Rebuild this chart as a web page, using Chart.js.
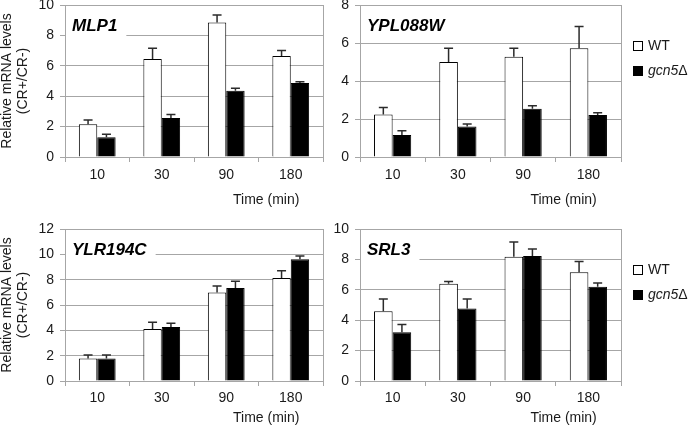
<!DOCTYPE html>
<html>
<head>
<meta charset="utf-8">
<script src="https://cdn.jsdelivr.net/npm/chart.js@4.4.1/dist/chart.umd.min.js"></script>
<style>
  body { margin: 0; background: #fff; }
  #wrap { position: relative; width: 692px; height: 429px; overflow: hidden; }
  #wrap canvas { position: absolute; }
</style>
</head>
<body>
<div id="wrap"></div>
<script>
// ---- data ----
const timeLabels = ['10', '30', '90', '180'];
const seriesNames = ['WT', 'gcn5Δ'];
const geneNames = ['MLP1', 'YPL088W', 'YLR194C', 'SRL3'];
const yMaxes = [10, 8, 12, 10];
const xAxisTitle = 'Time (min)';
const yAxisTitle = ['Relative mRNA levels', '(CR+/CR-)'];

const mlp1WT = [2.15, 6.45, 8.85, 6.65];
const mlp1WTErr = [0.28, 0.7, 0.5, 0.35];
const mlp1Mut = [1.3, 2.57, 4.36, 4.87];
const mlp1MutErr = [0.2, 0.23, 0.16, 0.08];

const ypl088wWT = [2.24, 5.0, 5.28, 5.72];
const ypl088wWTErr = [0.37, 0.72, 0.44, 1.15];
const ypl088wMut = [1.16, 1.61, 2.54, 2.21];
const ypl088wMutErr = [0.22, 0.13, 0.16, 0.12];

const ylr194cWT = [1.77, 4.1, 6.98, 8.14];
const ylr194cWTErr = [0.29, 0.53, 0.52, 0.56];
const ylr194cMut = [1.77, 4.26, 7.35, 9.62];
const ylr194cMutErr = [0.29, 0.29, 0.53, 0.24];

const srl3WT = [4.59, 6.4, 8.17, 7.15];
const srl3WTErr = [0.8, 0.15, 0.97, 0.71];
const srl3Mut = [3.2, 4.77, 8.23, 6.2];
const srl3MutErr = [0.51, 0.62, 0.45, 0.25];

const FONT = "'Liberation Sans', Arial, sans-serif";
const GRID = '#a6a6a6';
const TEXT = '#1a1a1a';

// error bars (upper only), drawn from the bar elements and the y scale
const errorBars = {
  id: 'errorBars',
  afterDatasetsDraw(chart) {
    const ctx = chart.ctx;
    const y = chart.scales.y;
    chart.data.datasets.forEach((ds, di) => {
      const meta = chart.getDatasetMeta(di);
      meta.data.forEach((bar, i) => {
        const top = y.getPixelForValue(ds.data[i] + ds.errors[i]);
        ctx.save();
        ctx.strokeStyle = '#2b2b2b';
        ctx.lineWidth = 1.5;
        ctx.beginPath();
        ctx.moveTo(bar.x, bar.y);
        ctx.lineTo(bar.x, top);
        ctx.moveTo(bar.x - 4.5, top);
        ctx.lineTo(bar.x + 4.5, top);
        ctx.stroke();
        ctx.restore();
      });
    });
  }
};

// right frame line, gene name box, x axis caption and side legend
const panelDecor = {
  id: 'panelDecor',
  beforeDatasetsDraw(chart, args, opts) {
    const ctx = chart.ctx;
    const a = chart.chartArea;
    ctx.save();
    ctx.strokeStyle = GRID;
    ctx.lineWidth = 1;
    ctx.beginPath();
    ctx.moveTo(a.right + 0.5, a.top);
    ctx.lineTo(a.right + 0.5, a.bottom);
    ctx.stroke();

    // gene name with white backing over the grid
    ctx.font = 'italic bold 17px ' + FONT;
    const tx = a.left + 7;
    const ty = a.top + 21;
    const tw = ctx.measureText(opts.gene).width;
    ctx.fillStyle = '#fff';
    ctx.fillRect(a.left + 1, ty - 13, tw + 15, 25);
    ctx.fillStyle = '#000';
    ctx.textBaseline = 'middle';
    ctx.fillText(opts.gene, tx, ty);

    // axis caption
    ctx.font = '14px ' + FONT;
    ctx.fillStyle = TEXT;
    ctx.textAlign = 'center';
    ctx.fillText(opts.caption, a.left + 0.78 * (a.right - a.left), a.bottom + opts.captionDy);
    ctx.restore();
  },
  afterDraw(chart, args, opts) {
    if (!opts.legend) return;
    const ctx = chart.ctx;
    const a = chart.chartArea;
    ctx.save();
    ctx.textBaseline = 'middle';
    chart.data.datasets.forEach((ds, i) => {
      const cy = a.top + 41 + i * 25;
      const bx = a.right + 12;
      ctx.fillStyle = ds.backgroundColor;
      ctx.fillRect(bx, cy - 5, 10, 10);
      ctx.strokeStyle = '#000';
      ctx.lineWidth = 1;
      ctx.strokeRect(bx + 0.5, cy - 4.5, 9, 9);
      let x = bx + 15;
      const parts = ds.label.split(/(Δ)/).filter(p => p);
      parts.forEach(p => {
        const italic = i > 0 && p !== 'Δ';
        ctx.font = (italic ? 'italic ' : '') + '14px ' + FONT;
        ctx.fillStyle = TEXT;
        ctx.fillText(p, x, cy);
        x += ctx.measureText(p).width;
      });
    });
    ctx.restore();
  }
};

const panels = [
  { gene: geneNames[0], wt: mlp1WT, wtErr: mlp1WTErr, mut: mlp1Mut, mutErr: mlp1MutErr, yMax: yMaxes[0],
    left: 0, top: 0, w: 346, h: 215, pad: { top: 5, right: 23 }, yW: 65, xH: 58, left1: true, tickPad: 5, captionDy: 43 },
  { gene: geneNames[1], wt: ypl088wWT, wtErr: ypl088wWTErr, mut: ypl088wMut, mutErr: ypl088wMutErr, yMax: yMaxes[1],
    left: 320, top: 0, w: 372, h: 215, pad: { top: 5, right: 71 }, yW: 40, xH: 58, left1: false, tickPad: 5, captionDy: 43 },
  { gene: geneNames[2], wt: ylr194cWT, wtErr: ylr194cWTErr, mut: ylr194cMut, mutErr: ylr194cMutErr, yMax: yMaxes[2],
    left: 0, top: 215, w: 346, h: 214, pad: { top: 14, right: 23 }, yW: 65, xH: 48, left1: true, tickPad: 4, captionDy: 37 },
  { gene: geneNames[3], wt: srl3WT, wtErr: srl3WTErr, mut: srl3Mut, mutErr: srl3MutErr, yMax: yMaxes[3],
    left: 320, top: 215, w: 372, h: 214, pad: { top: 14, right: 71 }, yW: 40, xH: 48, left1: false, tickPad: 4, captionDy: 37 }
];

const wrap = document.getElementById('wrap');

panels.forEach(p => {
  const canvas = document.createElement('canvas');
  canvas.width = p.w;
  canvas.height = p.h;
  canvas.style.left = p.left + 'px';
  canvas.style.top = p.top + 'px';
  canvas.style.width = p.w + 'px';
  canvas.style.height = p.h + 'px';
  wrap.appendChild(canvas);

  new Chart(canvas.getContext('2d'), {
    type: 'bar',
    data: {
      labels: timeLabels,
      datasets: [
        { label: seriesNames[0], data: p.wt, errors: p.wtErr, backgroundColor: '#ffffff',
          borderColor: '#000', borderWidth: 1, borderSkipped: 'start' },
        { label: seriesNames[1], data: p.mut, errors: p.mutErr, backgroundColor: '#000000',
          borderColor: '#000', borderWidth: 1, borderSkipped: 'start' }
      ]
    },
    options: {
      responsive: false,
      animation: false,
      devicePixelRatio: 1,
      categoryPercentage: 0.57,
      barPercentage: 1,
      layout: { padding: { left: 0, top: p.pad.top, right: p.pad.right, bottom: 0 } },
      plugins: {
        legend: { display: false },
        tooltip: { enabled: false },
        panelDecor: { gene: p.gene, caption: xAxisTitle, captionDy: p.captionDy, legend: !p.left1 }
      },
      scales: {
        x: {
          grid: { offset: true, drawOnChartArea: false, drawTicks: true, tickLength: 5, color: GRID },
          border: { display: true, color: GRID, width: 1 },
          ticks: { color: TEXT, font: { family: FONT, size: 14 }, padding: p.tickPad, maxRotation: 0 },
          afterFit: s => { s.height = p.xH; s.paddingLeft = 0; s.paddingRight = 0; }
        },
        y: {
          min: 0,
          max: p.yMax,
          ticks: { stepSize: 2, color: TEXT, font: { family: FONT, size: 14 }, padding: 6 },
          grid: { color: GRID, lineWidth: 1, tickLength: 5 },
          border: { display: true, color: GRID, width: 1 },
          title: {
            display: p.left1,
            text: yAxisTitle,
            color: TEXT,
            font: { family: FONT, size: 14, lineHeight: 1.15 },
            padding: { top: -1, bottom: 0 }
          },
          afterFit: s => { s.width = p.yW; s.paddingTop = 0; s.paddingBottom = 0; }
        }
      }
    },
    plugins: [errorBars, panelDecor]
  });
});
</script>
</body>
</html>
